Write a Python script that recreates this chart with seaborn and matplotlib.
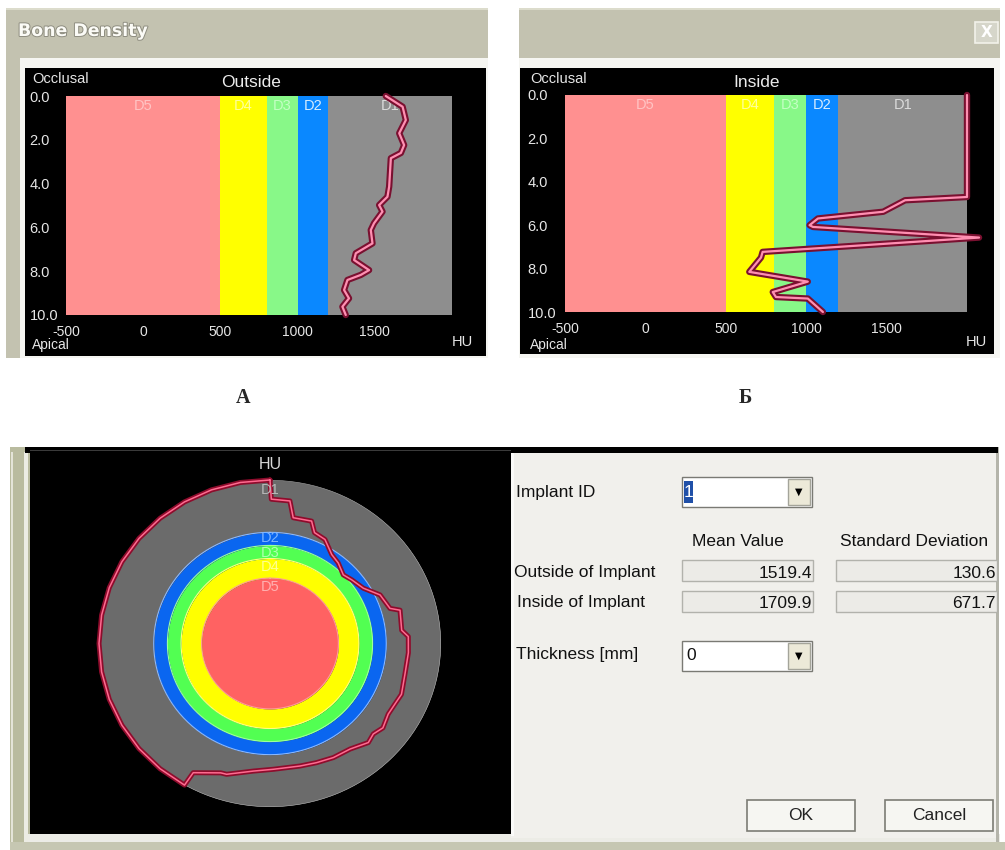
import numpy as np
import pandas as pd
import matplotlib.pyplot as plt
import matplotlib.patheffects as pe
from matplotlib.patches import Rectangle
import seaborn as sns

sns.set_style("white")
plt.rcParams['font.family'] = ['Liberation Sans', 'DejaVu Sans']

# density classes (HU band limits)
band_names = ['D5', 'D4', 'D3', 'D2', 'D1']
band_lo = [-500, 500, 800, 1000, 1200]
band_hi = [500, 800, 1000, 1200, 2000]
band_colors = ['#ff9090', '#ffff00', '#88f888', '#0a88ff', '#8e8e8e']
band_text = ['#ffc4c4', '#ffff9c', '#c4ffc4', '#d6ecff', '#dcdcdc']
ring_colors = ['#ff6262', '#ffff00', '#52ff52', '#0a66f0', '#6b6b6b']

x_ticks = [-500, 0, 500, 1000, 1500]
y_ticks = [0, 2, 4, 6, 8, 10]

# outside profile (depth mm, HU)
outside_depth = [0, 0.49, 1.1, 1.7, 2.24, 2.6, 2.84, 4.14, 4.6, 4.98, 5.28, 5.81,
                 6.12, 6.73, 7.18, 7.49, 7.95, 8.17, 8.4, 8.86, 9.24, 9.62, 10]
outside_hu = [1571, 1680, 1701, 1658, 1690, 1669, 1604, 1593, 1582, 1528, 1550, 1495,
              1474, 1485, 1377, 1366, 1463, 1409, 1323, 1301, 1333, 1290, 1312]

# inside profile
inside_depth = [0, 4.7, 4.85, 5.38, 5.69, 6.0, 6.08, 6.57, 7.23, 7.49, 8.15, 8.6,
                9.08, 9.31, 9.38, 10.0]
inside_hu = [2000, 2000, 1615, 1479, 1073, 1021, 1042, 2075, 729, 719, 646, 1010,
             792, 812, 1010, 1104]

# circular profile (angle clockwise from top, HU)
ring_angle = [0, 0.5, 7.6, 10, 18, 21, 26.8, 33.6, 39, 45.6, 50.8, 58.2, 65.2, 73, 75,
              84, 87, 94, 103, 112, 117, 122, 128, 132.5, 136.5, 144, 152, 159.5,
              166.8, 178.6, 187, 197.6, 200, 209.6, 210, 220, 230, 240, 250, 260,
              270, 280, 290, 300, 310, 320, 330, 340, 350, 360]
ring_hu = [2000, 1707, 1699, 1453, 1468, 1316, 1282, 1132, 1085, 1000, 1041, 1105,
           1272, 1335, 1468, 1436, 1525, 1528, 1527, 1573, 1547, 1538, 1595, 1548,
           1588, 1494, 1475, 1445, 1424, 1424, 1465, 1598, 1605, 1772, 2000, 2000,
           2000, 2000, 2000, 2000, 2000, 2000, 2000, 2000, 2000, 2000, 2000, 2000,
           2000, 2000]

row_names = ['Outside of Implant', 'Inside of Implant']
mean_values = ['1519.4', '1709.9']
std_values = ['130.6', '671.7']

W, H = 1005, 850
fig = plt.figure(figsize=(W / 100, H / 100), dpi=100, facecolor='white')


def box(x0, y0, x1, y1):
    return [x0 / W, 1 - y1 / H, (x1 - x0) / W, (y1 - y0) / H]


bg = fig.add_axes([0, 0, 1, 1])
bg.set_xlim(0, W)
bg.set_ylim(H, 0)
bg.axis('off')
bg.set_zorder(-5)


def rect(x0, y0, x1, y1, fc, ec='none', lw=0):
    bg.add_patch(Rectangle((x0, y0), x1 - x0, y1 - y0, facecolor=fc,
                           edgecolor=ec, linewidth=lw))


def txt(x, y, s, **kw):
    kw.setdefault('va', 'center')
    bg.text(x, y, s, **kw)


# window chrome, top
rect(6, 8, 488, 358, '#f6f6f2')
rect(6, 8, 488, 58, '#c3c2b0')
rect(6, 8, 488, 10, '#dcdccc')
rect(6, 58, 20, 358, '#c3c2b0')
rect(25, 68, 486, 356, 'black')

rect(519, 8, 1000, 358, '#f6f6f2')
rect(519, 8, 1000, 58, '#c3c2b0')
rect(519, 8, 1000, 10, '#dcdccc')
rect(520, 68, 994, 354, 'black')

txt(18, 31, 'Bone Density', fontsize=12.5, fontweight='bold', color='#fbfbf6',
    family='DejaVu Sans',
    path_effects=[pe.withStroke(linewidth=1.4, foreground='#8e8d80')])
rect(975, 22, 998, 43, '#d6d6ca', ec='#f2f2ea', lw=1.2)
txt(986.5, 32.5, 'X', ha='center', fontsize=11, fontweight='bold', color='white',
    family='DejaVu Sans')


def profile(ax, depth, hu):
    for lo, hi, c, nm, tc in zip(band_lo, band_hi, band_colors, band_names, band_text):
        ax.axvspan(lo, hi, color=c, lw=0)
        ax.text((lo + hi) / 2, 0.45, nm, ha='center', va='center', color=tc, fontsize=10.5)
    sns.lineplot(x=hu, y=depth, sort=False, estimator=None, ax=ax, color='#ff8fb2',
                 lw=1.6, clip_on=False, zorder=5,
                 path_effects=[pe.Stroke(linewidth=4.6, foreground='#7a1030'), pe.Normal()])
    ax.set_xlim(-500, 2000)
    ax.set_ylim(10, 0)
    ax.set_facecolor('black')
    for s in ax.spines.values():
        s.set_visible(False)
    ax.set_xticks(x_ticks, [str(v) for v in x_ticks])
    ax.set_yticks(y_ticks, [f'{v:.1f}' for v in y_ticks])
    ax.set_xlabel('')
    ax.set_ylabel('')
    ax.tick_params(colors='#e6e6e6', labelsize=10.5, length=3, width=1)
    ax.tick_params(axis='x', labelsize=10, pad=4)


axA = fig.add_axes(box(66, 96, 452, 315))
profile(axA, outside_depth, outside_hu)
axA.tick_params(axis='y', pad=23.2)
for lab in axA.get_yticklabels():
    lab.set_ha('left')

axB = fig.add_axes(box(565, 95, 967, 312))
profile(axB, inside_depth, inside_hu)
axB.tick_params(axis='y', pad=24)
for lab in axB.get_yticklabels():
    lab.set_ha('left')

for x0, title, tx, hux in [(32, 'Outside', 251, 462), (530, 'Inside', 757, 976)]:
    txt(x0, 79, 'Occlusal', fontsize=10.5, color='#e6e6e6')
    txt(tx, 82, title, ha='center', fontsize=12.5, color='#ececec')
    txt(x0, 345, 'Apical', fontsize=10, color='#e6e6e6')
    txt(hux, 342, 'HU', ha='center', fontsize=10.5, color='#e6e6e6')

txt(243, 398, 'А', ha='center', fontsize=14.5, fontweight='bold', family='Liberation Serif')
txt(745, 398, 'Б', ha='center', fontsize=14.5, fontweight='bold', family='Liberation Serif')

# bottom window
rect(10, 447, 30, 850, '#b9bb9f')
rect(11, 452, 13, 850, '#e4e4d8')
rect(24, 452, 28, 850, '#ececE4')
rect(10, 842, 1005, 850, '#c6c7b2')
rect(28, 834, 1000, 842, '#ecece6')
rect(511, 453, 998, 838, '#f1f0ec')
rect(511, 453, 514, 836, '#fafaf8')
rect(996, 447, 999, 842, '#b4b4aa')
rect(25, 447, 998, 453, 'black')
rect(30, 447, 511, 834, 'black')
rect(30, 450, 511, 451, '#3a3a3a')

axC = fig.add_axes(box(99, 480, 441, 807), projection='polar')
axC.set_aspect('auto')
axC.set_theta_zero_location('N')
axC.set_theta_direction(-1)
theta = np.linspace(0, 2 * np.pi, 361)
for lo, hi, c in zip(band_lo, band_hi, ring_colors):
    axC.fill_between(theta, lo, hi, color=c, lw=0)
for edge, ec in zip(band_hi, ['#ff9a9a', '#ffff80', '#9cff9c', '#8ab8ff', '#a8a8a8']):
    axC.plot(theta, [edge] * len(theta), color=ec, lw=0.8)
sns.lineplot(x=np.deg2rad(ring_angle), y=ring_hu, sort=False, estimator=None, ax=axC,
             color='#ff6a90', lw=1.1, clip_on=False, zorder=5,
             path_effects=[pe.Stroke(linewidth=3.6, foreground='#8e0c2c'), pe.Normal()])
axC.set_rlim(-500, 2000)
axC.set_xticks([])
axC.set_yticks([])
axC.grid(False)
axC.set_xlabel('')
axC.set_ylabel('')
axC.spines['polar'].set_visible(False)
axC.patch.set_alpha(0)
for nm, r, tc in zip(['D1', 'D2', 'D3', 'D4', 'D5'], [1848, 1115, 886, 670, 363],
                     ['#b8b8b8', '#7cb4ff', '#b0ffb0', '#ffff90', '#ffb0b0']):
    axC.text(0, r, nm, ha='center', va='center', color=tc, fontsize=10.5, zorder=6)
axC.text(0, 2240, 'HU', ha='center', va='center', color='#d8d8d8', fontsize=11.5,
         clip_on=False)

# dialog controls
fs = 12.5
txt(516, 492, 'Implant ID', fontsize=fs, color='#111111')
txt(738, 542, 'Mean Value', ha='center', fontsize=fs, color='#111111')
txt(914, 542, 'Standard Deviation', ha='center', fontsize=fs, color='#111111')
for i, (nm, mv, sv) in enumerate(zip(row_names, mean_values, std_values)):
    y0 = 560 + 30.5 * i
    txt(514 + 3 * i, y0 + 12, nm, fontsize=fs, color='#111111')
    rect(682, y0, 813, y0 + 21, '#ecebe7', ec='#b2b2ac', lw=1)
    rect(836, y0, 997, y0 + 21, '#ecebe7', ec='#b2b2ac', lw=1)
    txt(812, y0 + 13, mv, ha='right', fontsize=fs, color='#111111')
    txt(996, y0 + 13, sv, ha='right', fontsize=fs, color='#111111')
txt(516, 655, 'Thickness [mm]', fontsize=fs, color='#111111')

for y0, val in [(477, '1'), (641, '0')]:
    rect(682, y0, 812, y0 + 30, 'white', ec='#7a7a74', lw=1)
    rect(788, y0 + 2, 810, y0 + 28, '#ece9d8', ec='#a4a49a', lw=1)
    txt(799, y0 + 15, '▼', ha='center', fontsize=7, color='black', family='DejaVu Sans')
    if val == '1':
        rect(684, y0 + 4, 693, y0 + 26, '#2050a8')
        txt(688.5, y0 + 15, val, ha='center', fontsize=fs, color='white')
    else:
        txt(686, y0 + 15, val, fontsize=fs, color='#111111')

for x0, x1, lab in [(747, 855, 'OK'), (885, 993, 'Cancel')]:
    rect(x0, 800, x1, 831, '#f6f6f2', ec='#7c7c74', lw=1.2)
    txt((x0 + x1) / 2, 816, lab, ha='center', fontsize=fs, color='#222222')

fig.savefig('out.png', dpi=100, facecolor='white')
